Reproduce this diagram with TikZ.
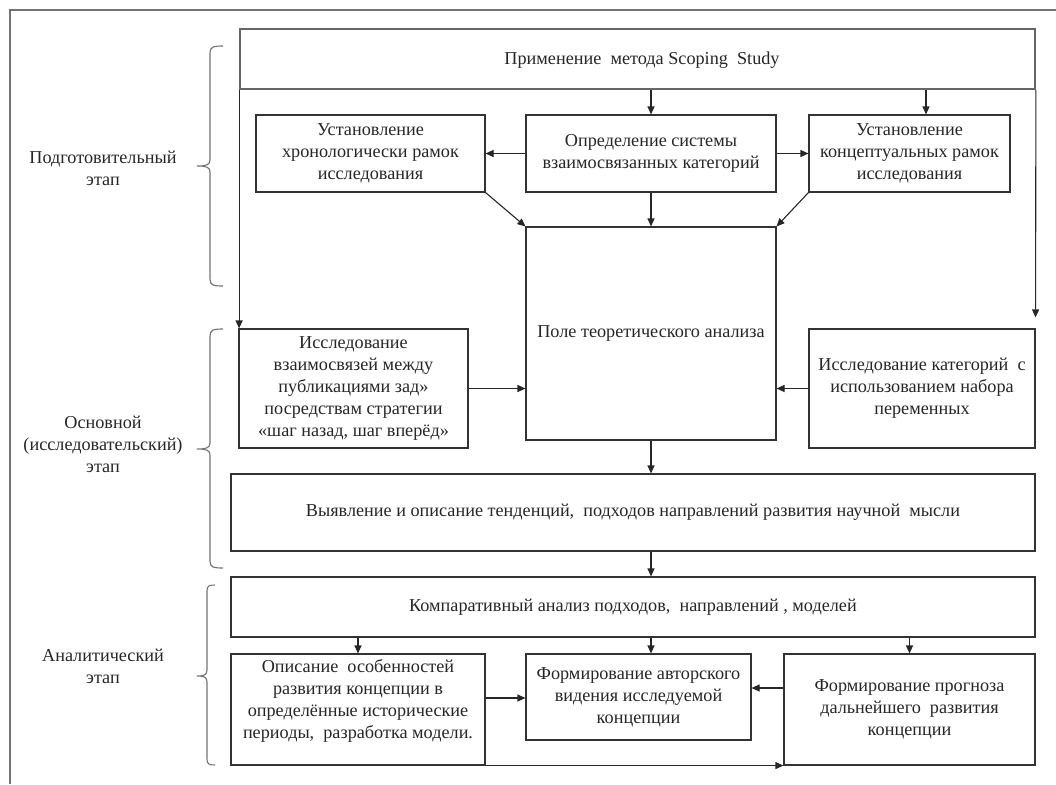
\documentclass[tikz,border=0pt]{standalone}
\usepackage{fontspec}
\setmainfont{Liberation Serif}
\usetikzlibrary{arrows.meta,calc}
\begin{document}
\begin{tikzpicture}[x=1pt,y=-1pt,
  every node/.style={font=\fontsize{18.2}{22}\selectfont, text=black!85, align=center},
  box/.style={draw=black!80, line width=1.1pt, rectangle, inner sep=0pt, align=center},
  topbox/.style={draw=black!60, line width=1.8pt, rectangle, inner sep=0pt, align=center},
  arr/.style={draw=black!85, line width=1.1pt, -{Triangle[length=8pt,width=7pt]}},
  lbl/.style={align=center},
  brc/.style={draw=black!55, line width=1.1pt}
]
\useasboundingbox (0,0) rectangle (1056,784);
% outer frame
\draw[black!55, line width=1.1pt] (10,784) -- (10,10) -- (1056,10);

% boxes
\node[topbox, minimum width=795pt, minimum height=60pt] (top) at (637.5,59) {};
\node at (642,60) (toptext) {Применение\ \ метода Scoping\ \ Study};

\node[box, minimum width=229pt, minimum height=77pt] (hron) at (370.5,153.5) {Установление\\хронологически рамок\\исследования};
\node[box, minimum width=250pt, minimum height=77pt] (opr) at (651,153.5) {Определение системы\\взаимосвязанных категорий};
\node[box, minimum width=201pt, minimum height=77pt] (konc) at (909.5,153.5) {Установление\\концептуальных рамок\\исследования};

\node[box, minimum width=250pt, minimum height=213pt] (field) at (651,333.5) {};
\node at (651,333) (fieldtext) {Поле теоретического анализа};

\node[box, minimum width=229pt, minimum height=119pt] (vzaim) at (353.5,388.5) {Исследование\\взаимосвязей между\\публикациями зад»\\посредствам стратегии\\«шаг назад, шаг вперёд»};
\node[box, minimum width=226pt, minimum height=119pt] (kateg) at (922,388.5) {Исследование категорий\ \ с\\использованием набора\\переменных};

\node[box, minimum width=804pt, minimum height=77pt] (vyyav) at (633,512.5) {Выявление и описание тенденций,\ \ подходов направлений развития научной\ \ мысли};
\node[box, minimum width=804pt, minimum height=60pt] (komp) at (633,607) {Компаративный анализ подходов,\ \ направлений , моделей};

\node[box, minimum width=254pt, minimum height=111pt] (opis) at (358,709.5) {};
\node at (358,701) (opistext) {Описание\ \ особенностей\\развития концепции в\\определённые исторические\\периоды,\ \ разработка модели.};
\node[box, minimum width=225pt, minimum height=86pt] (avt) at (638.5,697) {Формирование авторского\\видения исследуемой\\концепции};
\node[box, minimum width=251pt, minimum height=111pt] (prog) at (909.5,709.5) {Формирование прогноза\\дальнейшего\ \ развития\\концепции};

% labels
\node[lbl] (l1) at (103,168) {Подготовительный\\этап};
\node[lbl] (l2) at (103,444) {Основной\\(исследовательский)\\этап};
\node[lbl] (l3) at (103,666) {Аналитический\\этап};

% braces
\draw[brc] (223,46) .. controls (213,46) and (210,47) .. (210,53) -- (210,160)
  .. controls (210,165) and (206,166) .. (197,166)
  .. controls (206,166) and (210,167) .. (210,172) -- (210,279)
  .. controls (210,285) and (213,286) .. (223,286);
\draw[brc] (223,329) .. controls (213,329) and (210,330) .. (210,336) -- (210,443)
  .. controls (210,448) and (206,449) .. (197,449)
  .. controls (206,449) and (210,450) .. (210,455) -- (210,561)
  .. controls (210,567) and (213,568) .. (223,568);
\draw[brc] (215,585) .. controls (209,585) and (207,586) .. (207,591) -- (207,670)
  .. controls (207,675) and (204,676) .. (197,676)
  .. controls (204,676) and (207,677) .. (207,682) -- (207,759)
  .. controls (207,764) and (209,765) .. (215,765);

% connectors
\draw[arr] (top.south -| opr.north) -- (opr.north);
\draw[arr] ([xshift=16.5pt]top.south -| konc.north) -- ([xshift=16.5pt]konc.north);
\draw[arr] (top.south west) -- (top.south west |- vzaim.north);
\draw[arr] (top.south east) -- ([yshift=11pt]kateg.north east);
\draw[arr] (opr.west) -- (hron.east);
\draw[arr] (opr.east) -- (konc.west);
\draw[arr] (opr.south) -- (field.north);
\draw[arr] (hron.south east) -- (field.north west);
\draw[arr] (konc.south west) -- (field.north east);
\draw[arr] (vzaim.east) -- (vzaim.east -| field.west);
\draw[arr] (kateg.west) -- (kateg.west -| field.east);
\draw[arr] (field.south) -- (field.south |- vyyav.north);
\draw[arr] (field.south |- vyyav.south) -- (field.south |- komp.north);
\draw[arr] (opis.north |- komp.south) -- (opis.north);
\draw[arr] (field.south |- komp.south) -- (field.south |- avt.north);
\draw[arr] (prog.north |- komp.south) -- (prog.north);
\draw[arr] ([yshift=11.5pt]opis.east) -- ([yshift=11.5pt]opis.east -| avt.west);
\draw[arr] ([yshift=21.5pt]prog.west) -- ([yshift=21.5pt]prog.west -| avt.east);
\draw[arr] (opis.south east) -- (prog.south west);
\end{tikzpicture}
\end{document}
